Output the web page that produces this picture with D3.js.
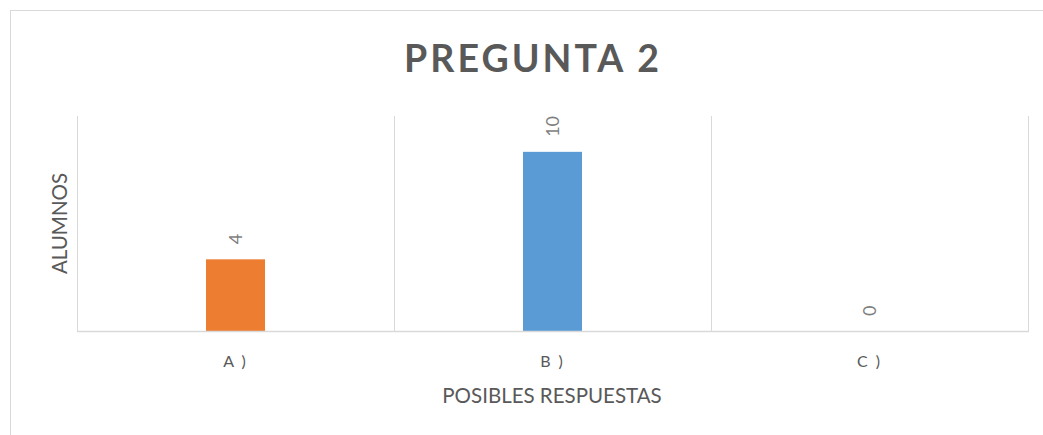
<!DOCTYPE html>
<html>
<head>
<meta charset="utf-8">
<script src="https://cdn.jsdelivr.net/npm/d3@7"></script>
<style>
  body { margin: 0; background: #fff; }
  svg text { font-family: Lato, 'Open Sans', sans-serif; }
</style>
</head>
<body>
<script>
  // chart data
  const categories = ['A )', 'B )', 'C )'];
  const values = [4, 10, 0];
  const colors = ['#ed7d31', '#5b9bd5', '#a5a5a5'];
  const yTicks = [0, 12];

  const w = 1043;
  const h = 435;
  const plot = { left: 77, right: 1028, top: 116, bottom: 331 };

  const svg = d3.select('body')
    .append('svg')
    .attr('width', w)
    .attr('height', h);

  // outer chart border
  svg.append('rect')
    .attr('x', 10.5)
    .attr('y', 10.5)
    .attr('width', w + 20)
    .attr('height', h + 20)
    .attr('fill', 'none')
    .attr('stroke', '#d9d9d9')
    .attr('stroke-width', 1);

  const xScale = d3.scaleBand()
    .domain(categories)
    .range([plot.left, plot.right])
    .paddingInner(0)
    .paddingOuter(0);

  const yScale = d3.scaleLinear()
    .domain([yTicks[0], yTicks[yTicks.length - 1]])
    .range([plot.bottom, plot.top]);

  // vertical gridlines between categories
  const bounds = categories.map((c) => xScale(c)).concat([plot.right]);
  svg.selectAll('line.grid')
    .data(bounds)
    .enter()
    .append('line')
    .attr('class', 'grid')
    .attr('x1', (d) => Math.round(d) + 0.5)
    .attr('x2', (d) => Math.round(d) + 0.5)
    .attr('y1', plot.top)
    .attr('y2', plot.bottom)
    .attr('stroke', '#d9d9d9')
    .attr('stroke-width', 1);

  // bars
  const barWidth = 59;
  svg.selectAll('rect.bar')
    .data(values)
    .enter()
    .append('rect')
    .attr('class', 'bar')
    .attr('x', (d, i) => xScale(categories[i]) + xScale.bandwidth() / 2 - barWidth / 2)
    .attr('y', (d) => yScale(d))
    .attr('width', barWidth)
    .attr('height', (d) => yScale(0) - yScale(d))
    .attr('fill', (d, i) => colors[i]);

  // x axis line
  svg.append('line')
    .attr('x1', plot.left)
    .attr('x2', plot.right + 1)
    .attr('y1', plot.bottom + 0.5)
    .attr('y2', plot.bottom + 0.5)
    .attr('stroke', '#d9d9d9')
    .attr('stroke-width', 1.5);

  // value labels, rotated
  svg.selectAll('text.value')
    .data(values)
    .enter()
    .append('text')
    .attr('class', 'value')
    .attr('transform', (d, i) => {
      const x = xScale(categories[i]) + xScale.bandwidth() / 2 + 6;
      const y = yScale(d) - 15;
      return 'translate(' + x + ',' + y + ') rotate(-90)';
    })
    .attr('text-anchor', 'start')
    .attr('font-size', 18)
    .attr('fill', '#7f7f7f')
    .text((d) => d);

  // category labels
  svg.selectAll('text.cat')
    .data(categories)
    .enter()
    .append('text')
    .attr('class', 'cat')
    .attr('x', (d) => xScale(d) + xScale.bandwidth() / 2)
    .attr('y', 367)
    .attr('text-anchor', 'middle')
    .attr('font-size', 16)
    .attr('letter-spacing', 2)
    .attr('fill', '#595959')
    .text((d) => d);

  // axis titles
  svg.append('text')
    .attr('x', 552)
    .attr('y', 403)
    .attr('text-anchor', 'middle')
    .attr('font-size', 20.5)
    .attr('fill', '#595959')
    .text('POSIBLES RESPUESTAS');

  svg.append('text')
    .attr('transform', 'translate(67,' + ((plot.top + plot.bottom) / 2) + ') rotate(-90)')
    .attr('text-anchor', 'middle')
    .attr('font-size', 20.5)
    .attr('fill', '#595959')
    .text('ALUMNOS');

  // chart title
  svg.append('text')
    .attr('x', 533)
    .attr('y', 72)
    .attr('text-anchor', 'middle')
    .attr('font-size', 37.5)
    .attr('font-weight', 'bold')
    .attr('letter-spacing', 3)
    .attr('fill', '#595959')
    .text('PREGUNTA 2');
</script>
</body>
</html>
